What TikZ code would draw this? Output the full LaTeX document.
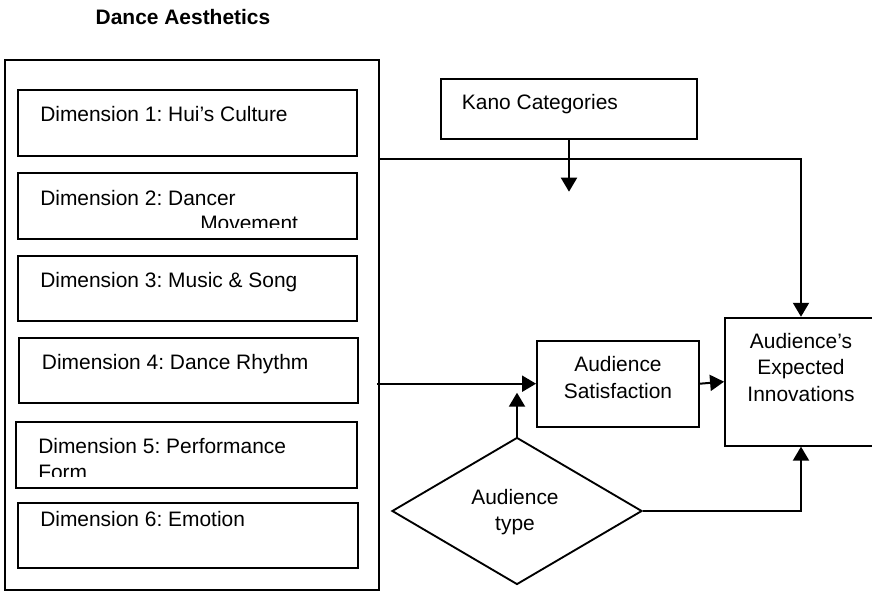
\documentclass[tikz,border=0pt]{standalone}
\usepackage{fontspec}
\setmainfont{Liberation Sans}
\usetikzlibrary{arrows.meta,shapes.geometric}
\frenchspacing
\begin{document}
\begin{tikzpicture}[x=0.75pt,y=-0.75pt,
  every node/.style={font=\fontsize{15.7}{20}\selectfont},
  dimbox/.style={draw,line width=2pt,rectangle,inner sep=0pt},
  thinbox/.style={draw,line width=1.4pt,rectangle,inner sep=0pt},
  txt/.style={inner sep=0pt,anchor=base west},
  ctxt/.style={inner sep=0pt,align=center},
  conn/.style={line width=1.5pt},
  arr/.style={line width=1.5pt,-{Triangle[width=12pt,length=10.5pt]}}]
\useasboundingbox (0,0) rectangle (872,592);
\clip (0,0) rectangle (872,592);
% title
\node[ctxt,font=\fontsize{15.7}{20}\selectfont\bfseries] (title) at (183,17) {Dance Aesthetics};
% outer box
\node[draw,line width=2.2pt,minimum width=374*0.75pt,minimum height=530*0.75pt,inner sep=0pt] (outer) at (192,325) {};
% dimension boxes
\node[dimbox,minimum width=339*0.75pt,minimum height=66*0.75pt] (d1) at (187.5,123) {};
\node[txt] (t1) at (40,121.5) {Dimension 1: Hui’s Culture};
\node[dimbox,minimum width=339*0.75pt,minimum height=66*0.75pt] (d2) at (187.5,206) {};
\begin{scope}
\clip (20,175) rectangle (355,227.7);
\node[txt] (t2) at (40,205) {Dimension 2: Dancer};
\node[txt] (t2b) at (200,230) {Movement};
\end{scope}
\node[dimbox,minimum width=339*0.75pt,minimum height=65*0.75pt] (d3) at (187.5,288.5) {};
\node[txt] (t3) at (40,287.5) {Dimension 3: Music \& Song};
\node[dimbox,minimum width=339*0.75pt,minimum height=65*0.75pt] (d4) at (188.5,370.5) {};
\node[txt] (t4) at (41.7,369.5) {Dimension 4: Dance Rhythm};
\node[dimbox,minimum width=341*0.75pt,minimum height=66*0.75pt] (d5) at (186.5,455) {};
\begin{scope}
\clip (18,424) rectangle (355,476);
\node[txt] (t5) at (38,453) {Dimension 5: Performance};
\node[txt] (t5b) at (38,479) {Form};
\end{scope}
\node[dimbox,minimum width=340*0.75pt,minimum height=65*0.75pt] (d6) at (188,535.5) {};
\node[txt] (t6) at (40,526) {Dimension 6: Emotion};
% Kano
\node[thinbox,minimum width=256*0.75pt,minimum height=60*0.75pt] (kano) at (568.7,109.3) {};
\node[txt] (kanoT) at (461.7,109.8) {Kano Categories};
% satisfaction
\node[thinbox,minimum width=162*0.75pt,minimum height=86*0.75pt] (sat) at (618,383.7) {};
\node[ctxt] (satT) at (618,377.5) {Audience\\Satisfaction};
% expected
\node[thinbox,minimum width=152*0.75pt,minimum height=128*0.75pt] (exp) at (801,381.7) {};
\node[ctxt] (expT) at (801,367.5) {Audience’s\\Expected\\Innovations};
% diamond
\node[draw,diamond,line width=1.4pt,inner sep=0pt,minimum width=250*0.75pt,minimum height=147*0.75pt] (type) at (517,511) {};
\node[ctxt] (typeT) at (515,512) {Audience\\type};
% connectors
\coordinate (kanoEnd) at (569,191.7);
\draw[arr] (kano.south -| kanoEnd) -- (kanoEnd);
\coordinate (j1) at (379,159);
\draw[arr] (j1) -| (exp.north);
\coordinate (j2) at (377,383.7);
\draw[arr] (j2) -- (sat.west);
\draw[arr] (sat.east) -- (exp.west);
\coordinate (typeEnd) at (517,392.7);
\draw[arr] (type.north) -- (typeEnd);
\draw[arr] (type.east) -| (exp.south);
\end{tikzpicture}
\end{document}
